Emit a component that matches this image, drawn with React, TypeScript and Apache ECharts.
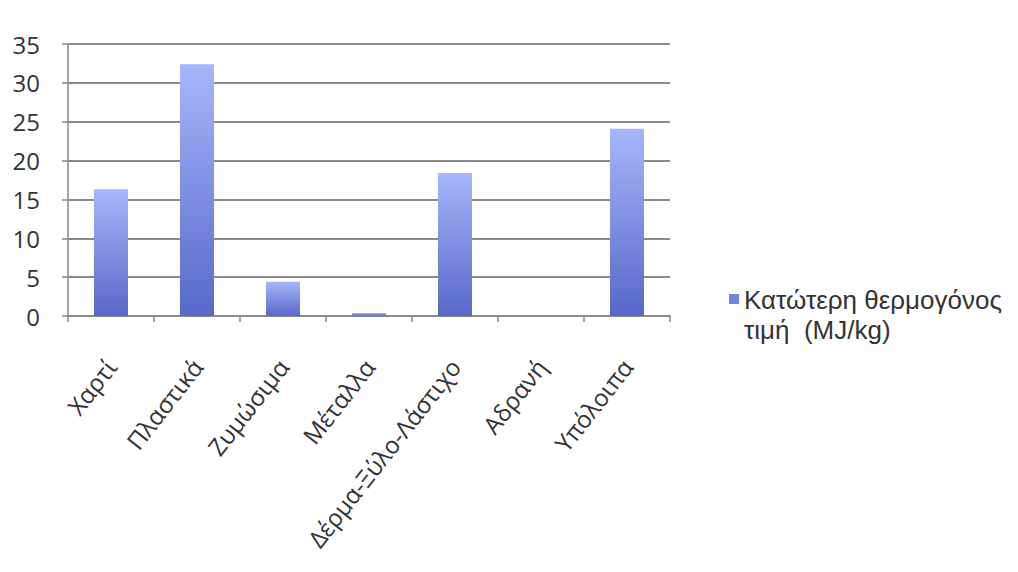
import React, { useEffect, useRef } from "react";
import * as echarts from "echarts";

const categories = ["Χαρτί", "Πλαστικά", "Ζυμώσιμα", "Μέταλλα", "Δέρμα-Ξύλο-Λάστιχο", "Αδρανή", "Υπόλοιπα"];
const values = [16.3, 32.4, 4.4, 0.4, 18.4, 0, 24.1];
const seriesName = "Κατώτερη θερμογόνος\nτιμή  (MJ/kg)";
const yTicks = { min: 0, max: 35, interval: 5 };

export default function App() {
  const ref = useRef<HTMLDivElement>(null);
  useEffect(() => {
    if (!ref.current) return;
    const chart = echarts.init(ref.current, undefined, { renderer: "svg" });
    const font = "'Open Sans', 'Noto Sans', sans-serif";
    const legendFont = "'Liberation Sans', Arial, sans-serif";
    const textColor = "#333333";
    chart.setOption({
      animation: false,
      backgroundColor: "#ffffff",
      textStyle: { fontFamily: font },
      grid: { left: 68, right: 348, top: 44, bottom: 256 },
      legend: {
        left: 724,
        top: 280,
        orient: "vertical",
        icon: "path://M0,0L10,0L10,10L0,10Z M0,42",
        itemWidth: 10,
        itemHeight: 42,
        textStyle: { fontSize: 26, lineHeight: 30, color: textColor, fontFamily: legendFont, padding: [0, 0, 0, 0] },
        data: [{ name: seriesName, itemStyle: { color: "#7083da" } }],
      },
      xAxis: {
        type: "category",
        data: categories,
        axisLine: { lineStyle: { color: "#8a8a8a", width: 2 } },
        axisTick: { show: true, length: 6, lineStyle: { color: "#8a8a8a", width: 1.5 } },
        axisLabel: { rotate: 52, interval: 0, fontSize: 24, color: textColor, margin: 46, fontFamily: font },
      },
      yAxis: {
        type: "value",
        min: yTicks.min,
        max: yTicks.max,
        interval: yTicks.interval,
        axisLine: { show: true, lineStyle: { color: "#8a8a8a", width: 1.5 } },
        axisTick: { show: true, length: 6, lineStyle: { color: "#8a8a8a", width: 1.5 } },
        splitLine: { lineStyle: { color: "#8a8a8a", width: 2 } },
        axisLabel: { fontSize: 24, color: textColor, margin: 28, fontFamily: font },
      },
      series: [
        {
          name: seriesName,
          type: "bar",
          data: values,
          barWidth: 34,
          itemStyle: {
            color: new echarts.graphic.LinearGradient(0, 0, 0, 1, [
              { offset: 0, color: "#a6b6fb" },
              { offset: 1, color: "#5868c9" },
            ]),
          },
        },
      ],
    });
    return () => chart.dispose();
  }, []);
  return <div ref={ref} style={{ position: "absolute", left: 0, top: 0, width: 1018, height: 572 }} />;
}
